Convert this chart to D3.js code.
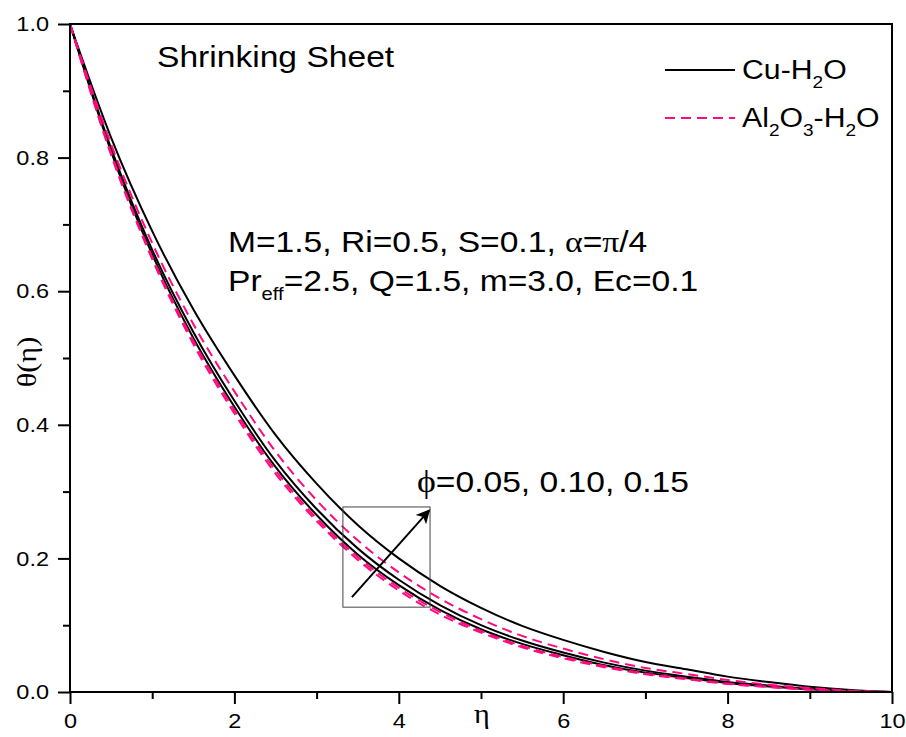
<!DOCTYPE html>
<html>
<head>
<meta charset="utf-8">
<script src="https://cdn.jsdelivr.net/npm/d3@7"></script>
<style>
  body { margin: 0; background: #fff; }
  text { font-family: Arial, "Liberation Sans", sans-serif; fill: #000; }
  .sym { font-family: "Liberation Serif", "DejaVu Serif", serif; }
</style>
</head>
<body>
<svg id="chart" width="906" height="737"></svg>
<script>
// eta grid and theta(eta)
const eta = [0,0.5,1,1.5,2,2.5,3,3.5,4,4.5,5,5.5,6,6.5,7,7.5,8,8.5,9,9.5,10]
const cuPhi05 = [1,0.809,0.655,0.530,0.427,0.337,0.265,0.206,0.160,0.123,0.094,0.072,0.055,0.040,0.029,0.021,0.0136,0.0083,0.0041,0.0013,0]
const cuPhi10 = [1,0.814,0.662,0.539,0.436,0.346,0.274,0.215,0.168,0.130,0.100,0.077,0.059,0.044,0.032,0.023,0.015,0.0095,0.0047,0.0016,0]
const cuPhi15 = [1,0.830,0.690,0.573,0.474,0.385,0.312,0.250,0.200,0.159,0.126,0.099,0.078,0.060,0.045,0.034,0.023,0.015,0.008,0.003,0]
const alPhi05 = [1,0.804,0.648,0.521,0.417,0.327,0.256,0.198,0.152,0.116,0.089,0.067,0.0505,0.0372,0.0266,0.0191,0.0121,0.0073,0.0035,0.0011,0]
const alPhi10 = [1,0.807,0.651,0.526,0.422,0.332,0.260,0.202,0.156,0.120,0.0915,0.069,0.0526,0.0388,0.0278,0.0201,0.0128,0.0078,0.0038,0.0012,0]
const alPhi15 = [1,0.820,0.672,0.551,0.450,0.360,0.287,0.227,0.179,0.140,0.109,0.084,0.065,0.049,0.036,0.027,0.018,0.011,0.006,0.002,0]

const xMajor = [0,2,4,6,8,10]
const xMinor = [1,3,5,7,9]
const yMajor = [0,0.2,0.4,0.6,0.8,1.0]
const yMinor = [0.1,0.3,0.5,0.7,0.9]

const series = [
  {name: "Cu-H2O", vals: cuPhi05, dashed: false},
  {name: "Cu-H2O", vals: cuPhi10, dashed: false},
  {name: "Cu-H2O", vals: cuPhi15, dashed: false},
  {name: "Al2O3-H2O", vals: alPhi05, dashed: true},
  {name: "Al2O3-H2O", vals: alPhi10, dashed: true},
  {name: "Al2O3-H2O", vals: alPhi15, dashed: true}
]

const pink = "#ff0a80"
const sx = 1.12   // the lettering in the figure is a bit wider than plain Arial
const svg = d3.select("#chart")
const mLeft = 70, mRight = 892, mTop = 24, mBottom = 692

const x = d3.scaleLinear().domain([0, 10]).range([mLeft, mRight])
const y = d3.scaleLinear().domain([0, 1]).range([mBottom, mTop])

// minor ticks
svg.append("g")
  .attr("transform", `translate(0,${mBottom})`)
  .call(d3.axisBottom(x).tickValues(xMinor).tickSize(7).tickFormat(""))
svg.append("g")
  .attr("transform", `translate(${mLeft},0)`)
  .call(d3.axisLeft(y).tickValues(yMinor).tickSize(7).tickFormat(""))

// major ticks
svg.append("g")
  .attr("transform", `translate(0,${mBottom})`)
  .call(d3.axisBottom(x).tickValues(xMajor).tickSize(12).tickPadding(9).tickFormat(d3.format("d")))
svg.append("g")
  .attr("transform", `translate(${mLeft},0)`)
  .call(d3.axisLeft(y).tickValues(yMajor).tickSize(12).tickPadding(9).tickFormat(d3.format(".1f")))

svg.selectAll(".tick line").attr("stroke", "#000").attr("stroke-width", 2)
svg.selectAll(".domain").remove()
svg.selectAll(".tick text")
  .style("font-family", "Arial, 'Liberation Sans', sans-serif")
  .style("font-size", "21px")
  .attr("fill", "#000")
  .each(function() {
    const t = d3.select(this)
    const tx = +(t.attr("x") || 0)
    t.attr("x", tx / sx).attr("transform", `scale(${sx},1)`)
  })

// curves
const line = d3.line()
  .x((d, i) => x(eta[i]))
  .y(d => y(d))
  .curve(d3.curveMonotoneX)

svg.append("g")
  .selectAll("path")
  .data(series)
  .join("path")
    .attr("d", d => line(d.vals))
    .attr("fill", "none")
    .attr("stroke", d => d.dashed ? pink : "#000")
    .attr("stroke-width", 2)
    .attr("stroke-dasharray", d => d.dashed ? "10,6" : null)

// frame
svg.append("rect")
  .attr("x", mLeft).attr("y", mTop)
  .attr("width", mRight - mLeft).attr("height", mBottom - mTop)
  .attr("fill", "none").attr("stroke", "#000").attr("stroke-width", 2)

// text placed with a slight horizontal stretch
function label(px, py, size) {
  return svg.append("text")
    .attr("transform", `translate(${px},${py}) scale(${sx},1)`)
    .style("font-size", size + "px")
}

// axis titles
label(482, 723, 27).attr("class", "sym").attr("text-anchor", "middle").text("η")

svg.append("text")
  .attr("class", "sym")
  .attr("transform", `translate(36,362) rotate(-90) scale(${sx},1)`)
  .attr("text-anchor", "middle")
  .style("font-size", "27px")
  .text("θ(η)")

// title
label(157, 67, 30).text("Shrinking Sheet")

// legend
const legend = [
  {label: ["Cu-H", "2", "O"], dashed: false, yy: 70},
  {label: ["Al", "2", "O", "3", "-H", "2", "O"], dashed: true, yy: 118}
]
const lg = svg.append("g")
lg.selectAll("line")
  .data(legend)
  .join("line")
    .attr("x1", 665).attr("x2", 735)
    .attr("y1", d => d.yy).attr("y2", d => d.yy)
    .attr("stroke", d => d.dashed ? pink : "#000")
    .attr("stroke-width", 2)
    .attr("stroke-dasharray", d => d.dashed ? "10,6" : null)
lg.selectAll("text")
  .data(legend)
  .join("text")
    .attr("transform", d => `translate(742,${d.yy + 9}) scale(${sx},1)`)
    .style("font-size", "27px")
    .each(function(d) {
      const t = d3.select(this)
      d.label.forEach((s, i) => {
        const sub = i % 2 === 1
        t.append("tspan")
          .attr("dy", sub ? 9 : (i > 0 ? -9 : 0))
          .style("font-size", sub ? "17px" : "27px")
          .text(s)
      })
    })

// parameters
const p1 = label(228, 252, 30)
p1.append("tspan").text("M=1.5, Ri=0.5, S=0.1, ")
p1.append("tspan").attr("class", "sym").text("α")
p1.append("tspan").text("=")
p1.append("tspan").attr("class", "sym").text("π")
p1.append("tspan").text("/4")

const p2 = label(228, 291, 30)
p2.append("tspan").text("Pr")
p2.append("tspan").attr("dy", 9).style("font-size", "18px").text("eff")
p2.append("tspan").attr("dy", -9).text("=2.5, Q=1.5, m=3.0, Ec=0.1")

// phi annotation
const p3 = label(417, 492, 30)
p3.append("tspan").attr("class", "sym").style("font-size", "32px").text("ϕ")
p3.append("tspan").text("=0.05, 0.10, 0.15")

// zoom box and arrow
svg.append("rect")
  .attr("x", x(3.32)).attr("y", y(0.277))
  .attr("width", x(4.38) - x(3.32)).attr("height", y(0.127) - y(0.277))
  .attr("fill", "none").attr("stroke", "#444").attr("stroke-width", 1)

svg.append("defs").append("marker")
  .attr("id", "head")
  .attr("viewBox", "0 0 10 10")
  .attr("refX", 9).attr("refY", 5)
  .attr("markerWidth", 20).attr("markerHeight", 14)
  .attr("markerUnits", "userSpaceOnUse")
  .attr("orient", "auto")
  .append("path").attr("d", "M0,0 L10,5 L0,10 L2.5,5 Z").attr("fill", "#000")

svg.append("line")
  .attr("x1", x(3.43)).attr("y1", y(0.142))
  .attr("x2", x(4.37)).attr("y2", y(0.272))
  .attr("stroke", "#000").attr("stroke-width", 2)
  .attr("marker-end", "url(#head)")
</script>
</body>
</html>
